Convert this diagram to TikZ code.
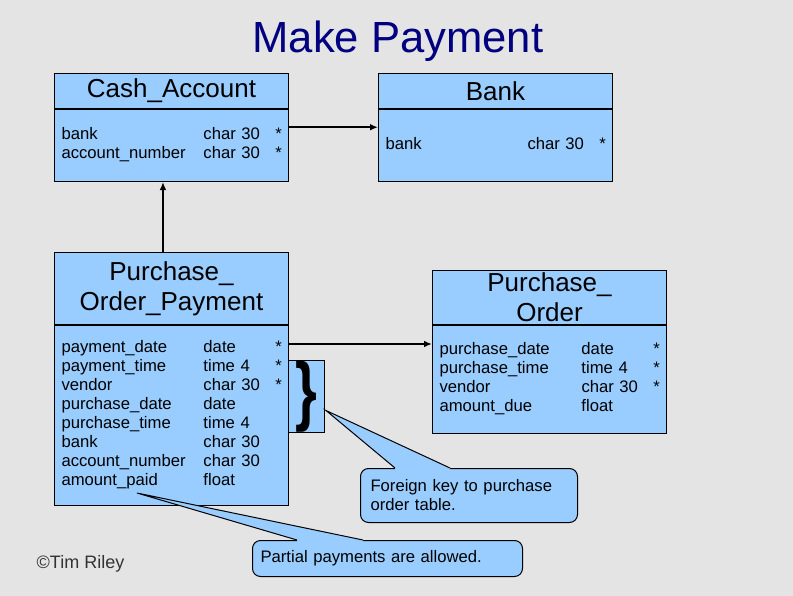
\documentclass[tikz,border=0pt]{standalone}
\usepackage{fontspec}
\usepackage{graphicx}
\setmainfont{Liberation Sans}
\usetikzlibrary{arrows.meta,positioning,calc}
\definecolor{PayNavy}{HTML}{000080}
\definecolor{PayBlue}{HTML}{99CCFF}
\definecolor{PayMarble}{HTML}{E4E4E4}
\definecolor{PayInk}{HTML}{333333}
\newcommand{\fieldtab}[1]{\noindent\begin{tabular}{@{}p{106.5pt}@{}p{54pt}@{}l@{}}#1\end{tabular}}

\begin{document}
\begin{tikzpicture}[x=0.75pt,y=-0.75pt,
      tblhead/.style={draw,line width=0.75pt,fill=PayBlue,anchor=north west,
                      minimum width=175.5pt,inner sep=0pt,align=center,
                      font=\fontsize{19.5}{22.5}\selectfont},
      tblbody/.style={draw,line width=0.75pt,fill=PayBlue,anchor=north west,
                      text width=165pt,inner xsep=5.25pt,inner ysep=0pt,
                      font=\fontsize{12.5}{14.25}\selectfont},
      note/.style={draw,line width=0.75pt,fill=PayBlue,rounded corners=6pt,
                   anchor=north west,inner ysep=0pt,align=left,
                   font=\fontsize{12.5}{14.25}\selectfont},
      link/.style={-{Latex[length=6pt,width=5pt]},line width=1.2pt}]
    \fill[PayMarble] (0,0) rectangle (793,596);
    \useasboundingbox (0,0) rectangle (793,596);
    \node[font=\fontsize{32.7}{36}\selectfont,text=PayNavy,anchor=base] (title) at (398,52) {Make Payment};
    % tables
    \node[tblhead,minimum height=26.25pt] (cashhead) at (54,73) {Cash\_Account};
    \node[tblbody,minimum height=54pt] (cashbody) at (cashhead.south west)
      {\fieldtab{bank & char 30 & *\\ account\_number & char 30 & *}};
    \node[tblhead,minimum height=26.25pt] (bankhead) at (378,73) {Bank};
    \node[tblbody,minimum height=54pt] (bankbody) at (bankhead.south west)
      {\fieldtab{bank & char 30 & *}};
    \node[tblhead,minimum height=54pt] (pophead) at (54,252) {Purchase\_\\Order\_Payment};
    \node[tblbody,minimum height=135pt] (popbody) at (pophead.south west)
      {\fieldtab{payment\_date & date & *\\ payment\_time & time 4 & *\\
        vendor & char 30 & *\\ purchase\_date & date & \\ purchase\_time & time 4 & \\
        bank & char 30 & \\ account\_number & char 30 & \\ amount\_paid & float & }};
    \node[tblhead,minimum height=40.5pt] (pohead) at (432,270) {Purchase\_\\Order};
    \node[tblbody,minimum height=81pt] (pobody) at (pohead.south west)
      {\fieldtab{purchase\_date & date & *\\ purchase\_time & time 4 & *\\
        vendor & char 30 & *\\ amount\_due & float & }};
    \node[draw,line width=0.75pt,fill=PayBlue,anchor=north west,minimum width=27pt,
          minimum height=54pt,inner sep=0pt,font=\fontsize{42}{42}\bfseries\selectfont]
      (fkbrace) at (288,360) {\scalebox{1}[1.36]{\}}};
    % links
    \draw[link] ($(cashbody.north east)!0.25!(cashbody.south east)$)
      -- ($(bankbody.north west)!0.25!(bankbody.south west)$);
    \draw[link] ([xshift=-6.4pt]pophead.north) -- ([xshift=-6.4pt]cashbody.south);
    \draw[link] ([yshift=-14.25pt]popbody.north east) -- ([yshift=-14.25pt]pobody.north west);
    % notes
    \node[note,text width=147.75pt,inner xsep=7.5pt,minimum height=40.5pt]
      (fknote) at (360,468) {Foreign key to purchase\\order table.};
    \coordinate (fktip) at ($(fkbrace.east)+(1,14)$);
    \coordinate (fka) at ($(fknote.north west)+(35,0)$);
    \coordinate (fkb) at ($(fknote.north west)+(90,0)$);
    \fill[PayBlue] (fka) -- (fktip) -- (fkb) -- ++(0,2) -- ($(fka)+(0,2)$) -- cycle;
    \draw[line width=0.75pt] (fka) -- (fktip) -- (fkb);
    \node[note,text width=190.5pt,inner xsep=6pt,minimum height=27pt]
      (paynote) at (252,540) {Partial payments are allowed.};
    \coordinate (paytip) at ($(popbody.south west)+(83,-13)$);
    \coordinate (paya) at ($(paynote.north west)+(45,0)$);
    \coordinate (payb) at ($(paynote.north west)+(111,0)$);
    \fill[PayBlue] (paya) -- (paytip) -- (payb) -- ++(0,2) -- ($(paya)+(0,2)$) -- cycle;
    \draw[line width=0.75pt] (paya) -- (paytip) -- (payb);
    \node[font=\fontsize{13.5}{16}\selectfont,text=PayInk,anchor=base west]
      (credit) at (32,568) {©Tim Riley};
  \end{tikzpicture}
\end{document}
